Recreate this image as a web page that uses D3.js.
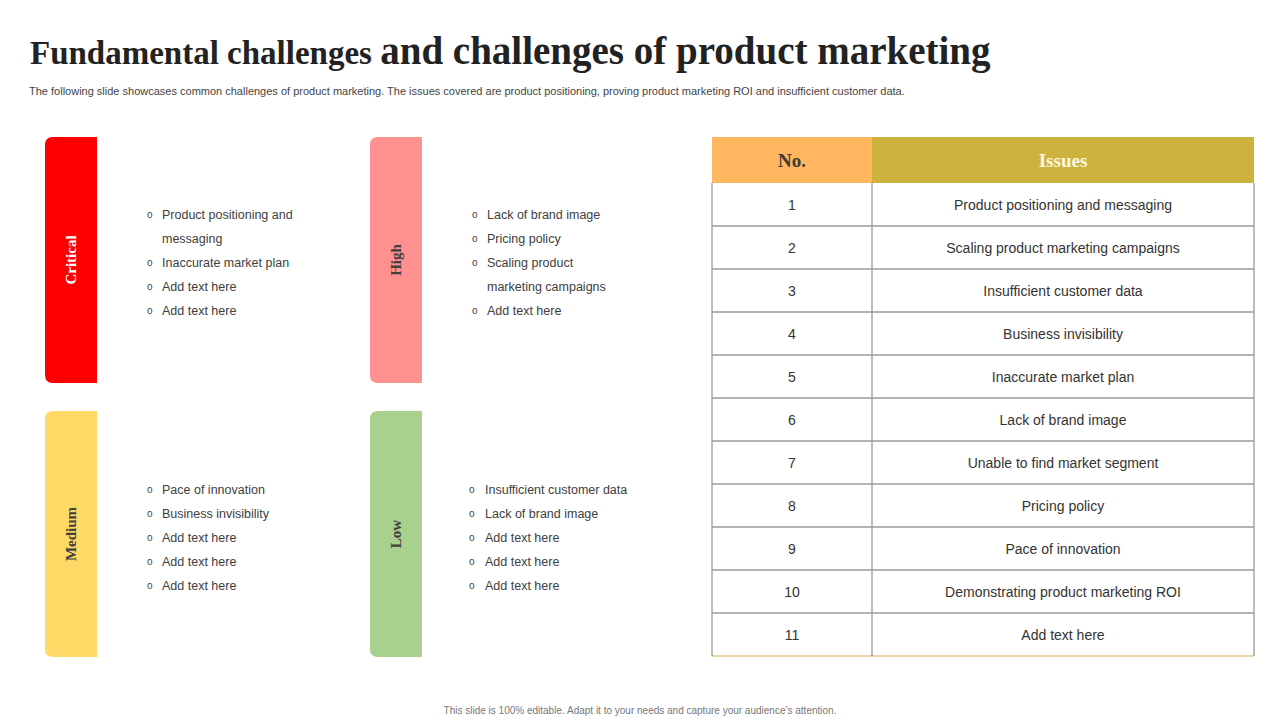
<!DOCTYPE html>
<html>
<head>
<meta charset="utf-8">
<script src="https://cdn.jsdelivr.net/npm/d3@7"></script>
<style>
  body { margin: 0; background: #fff; }
  svg { display: block; }
</style>
</head>
<body>
<svg id="chart" width="1280" height="720"></svg>
<script>
(function () {
    "use strict";

    // Priority panels
    var levels = ["Critical", "High", "Medium", "Low"];
    var levelColors = ["#ff0000", "#ff9090", "#ffd966", "#a9d18e"];
    var levelTextColors = ["#ffffff", "#404040", "#404040", "#404040"];
    var levelItems = [
        [["Product positioning and", "messaging"], ["Inaccurate market plan"], ["Add text here"], ["Add text here"]],
        [["Lack of brand image"], ["Pricing policy"], ["Scaling product", "marketing campaigns"], ["Add text here"]],
        [["Pace of innovation"], ["Business invisibility"], ["Add text here"], ["Add text here"], ["Add text here"]],
        [["Insufficient customer data"], [" Lack of brand image"], ["Add text here"], ["Add text here"], ["Add text here"]]
    ];

    // Issues table
    var tableHeaders = ["No.", "Issues"];
    var issueNumbers = [1, 2, 3, 4, 5, 6, 7, 8, 9, 10, 11];
    var issueNames = [
        "Product positioning and messaging",
        "Scaling product marketing campaigns",
        "Insufficient customer data",
        "Business invisibility",
        "Inaccurate market plan",
        "Lack of brand image",
        "Unable to find market segment",
        "Pricing policy",
        "Pace of innovation",
        "Demonstrating product marketing ROI",
        "Add text here"
    ];

    var svg = d3.select("#chart");
    var sans = "Arial, 'Liberation Sans', sans-serif";
    var serif = "'Liberation Serif', 'DejaVu Serif', serif";

    // Title
    var title = svg.append("text").attr("x", 30).attr("y", 64)
        .attr("font-family", serif).attr("font-weight", "bold").attr("fill", "#222");
    title.append("tspan").attr("font-size", 33).text("Fundamental challenges ");
    title.append("tspan").attr("font-size", 39).text("and challenges of product marketing");

    svg.append("text").attr("x", 29).attr("y", 95)
        .attr("font-family", sans).attr("font-size", 11).attr("fill", "#444")
        .text("The following slide showcases common challenges of product marketing. The issues covered are product positioning, proving product marketing ROI and insufficient customer data.");

    // Panels
    var panelX = d3.scaleOrdinal().domain([0, 1]).range([45, 370]);
    var panelY = d3.scaleOrdinal().domain([0, 1]).range([137, 411]);
    var barW = 52, barH = 246, r = 8;
    var listTop = [214, 214, 489, 489];
    var lineGap = 24;

    levels.forEach(function (name, i) {
        var x0 = panelX(i % 2), y0 = panelY(Math.floor(i / 2));
        var g = svg.append("g");
        // rounded on the left only
        g.append("path")
            .attr("d", "M" + (x0 + barW) + "," + y0 +
                " H" + (x0 + r) + " Q" + x0 + "," + y0 + " " + x0 + "," + (y0 + r) +
                " V" + (y0 + barH - r) + " Q" + x0 + "," + (y0 + barH) + " " + (x0 + r) + "," + (y0 + barH) +
                " H" + (x0 + barW) + " Z")
            .attr("fill", levelColors[i]);
        g.append("text")
            .attr("transform", "translate(" + (x0 + barW / 2 + 5) + "," + (y0 + barH / 2) + ") rotate(-90)")
            .attr("text-anchor", "middle")
            .attr("font-family", serif).attr("font-weight", "bold").attr("font-size", 15)
            .attr("fill", levelTextColors[i]).text(name);

        var bx = x0 + 102, tx = x0 + 117;
        if (i === 3) { bx -= 3; tx -= 2; }
        var line = 0;
        levelItems[i].forEach(function (item) {
            item.forEach(function (txt, k) {
                var y = listTop[i] + line * lineGap;
                if (k === 0) {
                    g.append("text").attr("x", bx).attr("y", y + 4)
                        .attr("font-family", sans).attr("font-size", 10).attr("fill", "#444").text("o");
                }
                g.append("text").attr("x", tx).attr("y", y + 5)
                    .attr("font-family", sans).attr("font-size", 12.5).attr("fill", "#404040").text(txt);
                line += 1;
            });
        });
    });

    // Table
    var tx0 = 712, tSplit = 872, tx1 = 1254;
    var headTop = 137, headH = 46, rowH = 43;
    var rowY = d3.scaleBand().domain(issueNumbers).range([headTop + headH, headTop + headH + rowH * issueNumbers.length]);

    var t = svg.append("g");
    t.append("rect").attr("x", tx0).attr("y", headTop).attr("width", tSplit - tx0).attr("height", headH).attr("fill", "#ffb65e");
    t.append("rect").attr("x", tSplit).attr("y", headTop).attr("width", tx1 - tSplit).attr("height", headH).attr("fill", "#cdb23e");
    t.append("text").attr("x", (tx0 + tSplit) / 2).attr("y", headTop + 30).attr("text-anchor", "middle")
        .attr("font-family", serif).attr("font-weight", "bold").attr("font-size", 19).attr("fill", "#3a3a3a").text(tableHeaders[0]);
    t.append("text").attr("x", (tSplit + tx1) / 2).attr("y", headTop + 30).attr("text-anchor", "middle")
        .attr("font-family", serif).attr("font-weight", "bold").attr("font-size", 19).attr("fill", "#fff8e0").text(tableHeaders[1]);

    var rows = t.selectAll("g.row").data(issueNumbers).join("g").attr("class", "row");
    rows.append("line").attr("x1", tx0).attr("x2", tx1)
        .attr("y1", function (d) { return rowY(d) + rowH; }).attr("y2", function (d) { return rowY(d) + rowH; })
        .attr("stroke", function (d, i) { return i === issueNumbers.length - 1 ? "#e0c890" : "#9a9a9a"; })
        .attr("stroke-width", 1.3);
    rows.append("text").attr("x", (tx0 + tSplit) / 2).attr("y", function (d) { return rowY(d) + rowH / 2 + 5; })
        .attr("text-anchor", "middle").attr("font-family", sans).attr("font-size", 14).attr("fill", "#333")
        .text(function (d) { return d; });
    rows.append("text").attr("x", (tSplit + tx1) / 2).attr("y", function (d) { return rowY(d) + rowH / 2 + 5; })
        .attr("text-anchor", "middle").attr("font-family", sans).attr("font-size", 14).attr("fill", "#333")
        .text(function (d, i) { return issueNames[i]; });

    var yEnd = rowY.range()[1];
    [tx0, tSplit, tx1].forEach(function (x) {
        t.append("line").attr("x1", x).attr("x2", x).attr("y1", headTop + headH).attr("y2", yEnd)
            .attr("stroke", "#9a9a9a").attr("stroke-width", 1.3);
    });

    svg.append("text").attr("x", 640).attr("y", 714).attr("text-anchor", "middle")
        .attr("font-family", sans).attr("font-size", 10).attr("fill", "#777")
        .text("This slide is 100% editable. Adapt it to your needs and capture your audience\u2019s attention.");
})();
</script>
</body>
</html>
